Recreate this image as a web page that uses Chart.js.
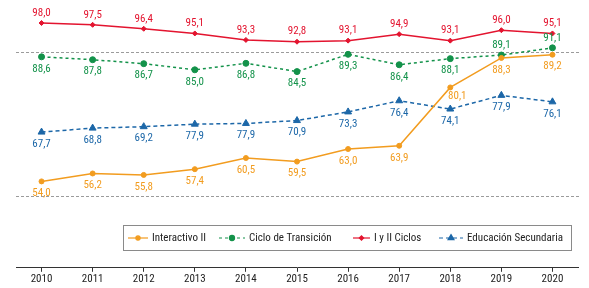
<!DOCTYPE html>
<html>
<head>
<meta charset="utf-8">
<script src="https://cdn.jsdelivr.net/npm/chart.js@4/dist/chart.umd.min.js"></script>
<style>
  html, body { margin: 0; padding: 0; background: #fff; }
  #wrap { width: 589px; height: 288px; position: relative; }
</style>
</head>
<body>
<div id="wrap"><canvas id="myChart" width="589" height="288"></canvas></div>
<script>
'use strict';

// years on the x axis
var years = ['2010', '2011', '2012', '2013', '2014', '2015', '2016', '2017', '2018', '2019', '2020'];

// series values (percent)
var interactivo = [54.0, 56.2, 55.8, 57.4, 60.5, 59.5, 63.0, 63.9, 80.1, 88.3, 89.2];
var cicloTransicion = [88.6, 87.8, 86.7, 85.0, 86.8, 84.5, 89.3, 86.4, 88.1, 89.1, 91.1];
var primerSegundo = [98.0, 97.5, 96.4, 95.1, 93.3, 92.8, 93.1, 94.9, 93.1, 96.0, 95.1];
// secundaria: where the points sit, and the numbers printed next to them
var secundaria = [67.7, 68.8, 69.2, 69.9, 70.1, 70.9, 73.3, 76.4, 74.1, 77.9, 76.1];
var secundariaPrinted = [67.7, 68.8, 69.2, 77.9, 77.9, 70.9, 73.3, 76.4, 74.1, 77.9, 76.1];

// dashed reference lines
var refLines = [90, 50];

var FONT = '"Liberation Sans Narrow", "Roboto Condensed", Roboto, "Noto Sans", sans-serif';

function fmt(v) {
    return v.toFixed(1).replace('.', ',');
}

// value labels next to each point
var pointLabels = {
    id: 'pointLabels',
    afterDatasetsDraw: function (chart) {
        var ctx = chart.ctx;
        ctx.save();
        ctx.font = '11px ' + FONT;
        ctx.textAlign = 'center';
        ctx.textBaseline = 'middle';
        chart.data.datasets.forEach(function (ds, di) {
            var meta = chart.getDatasetMeta(di);
            var texts = ds.printed || ds.data;
            ctx.fillStyle = ds.labelColor || ds.borderColor;
            meta.data.forEach(function (pt, i) {
                var place = ds.labelPlace ? ds.labelPlace(i) : 'below';
                var dx = 0, dy = 12;
                if (place === 'above') dy = -10;
                if (place === 'belowRight') { dx = 7; dy = 9; }
                ctx.fillText(fmt(texts[i]), pt.x + dx, pt.y + dy);
            });
        });
        ctx.restore();
    }
};

// grey dashed lines across the plot
var refLinePlugin = {
    id: 'refLines',
    beforeDatasetsDraw: function (chart) {
        var ctx = chart.ctx, area = chart.chartArea, y = chart.scales.y;
        ctx.save();
        ctx.strokeStyle = '#9b9b9b';
        ctx.lineWidth = 1;
        ctx.setLineDash([3, 2]);
        refLines.forEach(function (v) {
            var py = Math.round(y.getPixelForValue(v)) + 0.5;
            ctx.beginPath();
            ctx.moveTo(area.left, py);
            ctx.lineTo(area.right + 2, py);
            ctx.stroke();
        });
        ctx.restore();
    }
};

// boxed legend inside the plot, above the year axis
var boxLegend = {
    id: 'boxLegend',
    afterDraw: function (chart) {
        var ctx = chart.ctx;
        var box = { left: 123.5, top: 225.5, right: 571.5, bottom: 250.5 };
        var items = [
            { sample: 128, text: 152 },
            { sample: 219, text: 249 },
            { sample: 353, text: 374 },
            { sample: 439, text: 467 }
        ];
        var cy = (box.top + box.bottom) / 2;
        ctx.save();
        ctx.fillStyle = '#fff';
        ctx.fillRect(box.left, box.top, box.right - box.left, box.bottom - box.top);
        ctx.strokeStyle = '#8a8a8a';
        ctx.lineWidth = 1;
        ctx.strokeRect(box.left, box.top, box.right - box.left, box.bottom - box.top);
        chart.data.datasets.forEach(function (ds, i) {
            var it = items[i];
            var x0 = it.sample, x1 = it.text - 4;
            ctx.strokeStyle = ds.borderColor;
            ctx.fillStyle = ds.borderColor;
            ctx.lineWidth = 1.2;
            ctx.setLineDash(ds.borderDash || []);
            ctx.beginPath();
            ctx.moveTo(x0, cy);
            ctx.lineTo(x1, cy);
            ctx.stroke();
            ctx.setLineDash([]);
            Chart.helpers.drawPoint(ctx, {
                pointStyle: ds.pointStyle,
                radius: ds.pointRadius * 0.85,
                borderWidth: 1
            }, (x0 + x1) / 2, cy);
            ctx.fillStyle = '#222';
            ctx.font = '11px ' + FONT;
            ctx.textAlign = 'left';
            ctx.textBaseline = 'middle';
            ctx.fillText(ds.label, it.text, cy);
        });
        ctx.restore();
    }
};

var orange = '#f29c1f', green = '#13924a', red = '#e3142f', blue = '#1c67a8';

function series(label, data, color, style, radius, dash) {
    return {
        label: label,
        data: data,
        borderColor: color,
        backgroundColor: color,
        pointBackgroundColor: color,
        pointBorderColor: color,
        pointBorderWidth: 1,
        pointStyle: style,
        pointRadius: radius,
        pointHoverRadius: radius,
        borderWidth: 1.5,
        borderDash: dash,
        tension: 0,
        fill: false
    };
}

var dsInteractivo = series('Interactivo II', interactivo, orange, 'circle', 2.5, []);
dsInteractivo.labelPlace = function (i) { return i === 8 ? 'belowRight' : 'below'; };
var dsCiclo = series('Ciclo de Transición', cicloTransicion, green, 'circle', 3, [3, 3]);
dsCiclo.labelPlace = function (i) { return i >= 9 ? 'above' : 'below'; };
var dsPrimer = series('I y II Ciclos', primerSegundo, red, 'rectRot', 2.5, []);
dsPrimer.labelPlace = function () { return 'above'; };
var dsSecundaria = series('Educación Secundaria', secundaria, blue, 'triangle', 4, [4, 3]);
dsSecundaria.printed = secundariaPrinted;
dsSecundaria.labelPlace = function () { return 'below'; };

var myChart = new Chart(document.getElementById('myChart'), {
    type: 'line',
    data: {
        labels: years,
        datasets: [dsInteractivo, dsCiclo, dsPrimer, dsSecundaria]
    },
    options: {
        responsive: false,
        animation: false,
        events: [],
        layout: { padding: { left: 16, right: 11, top: 3, bottom: 1 } },
        plugins: {
            legend: { display: false },
            tooltip: { enabled: false }
        },
        scales: {
            x: {
                offset: true,
                grid: { drawOnChartArea: false, drawTicks: true, tickLength: 4, color: '#333', offset: false },
                border: { color: '#333', width: 1 },
                ticks: { color: '#222', font: { family: FONT, size: 11 }, padding: 1 }
            },
            y: {
                display: false,
                min: 30,
                max: 103
            }
        }
    },
    plugins: [refLinePlugin, pointLabels, boxLegend]
});
</script>
</body>
</html>
